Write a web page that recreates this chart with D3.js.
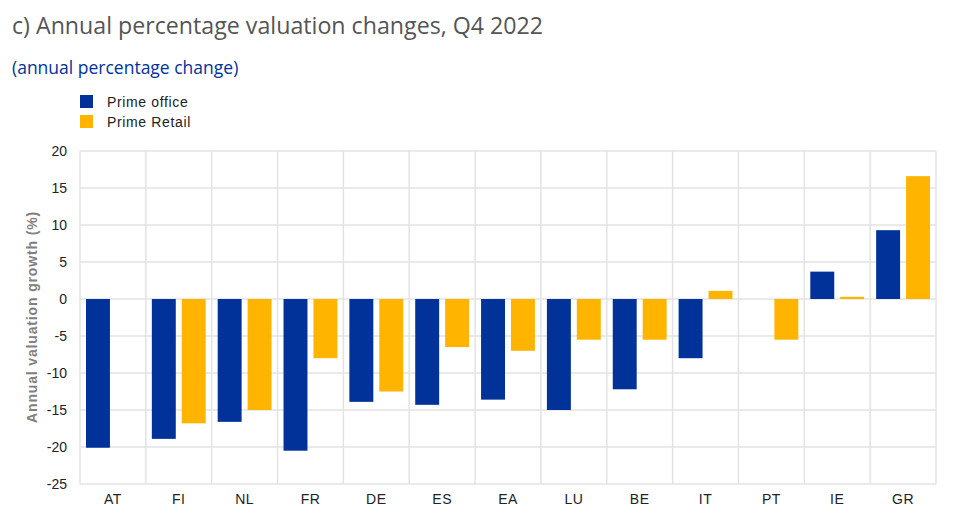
<!DOCTYPE html>
<html>
<head>
<meta charset="utf-8">
<script src="https://cdn.jsdelivr.net/npm/d3@7"></script>
<style>
  html, body { margin: 0; padding: 0; background: #fff; }
  svg { display: block; }
</style>
</head>
<body>
<div id="chart"></div>
<script>
// values
var countries = ["AT", "FI", "NL", "FR", "DE", "ES", "EA", "LU", "BE", "IT", "PT", "IE", "GR"];
var primeOffice = [-20.1, -18.9, -16.6, -20.5, -13.9, -14.3, -13.6, -15, -12.2, -8, null, 3.7, 9.3];
var primeRetail = [null, -16.8, -15, -8, -12.5, -6.5, -7, -5.5, -5.5, 1.1, -5.5, 0.3, 16.6];
var seriesNames = ["Prime office", "Prime Retail"];
var yTicks = [20, 15, 10, 5, 0, -5, -10, -15, -20, -25];

var blue = "#003299", orange = "#ffb400", gridColor = "#e3e3e3";

var svg = d3.select("#chart").append("svg")
    .attr("width", 960)
    .attr("height", 520);

var margin = { top: 151, right: 24, bottom: 36, left: 80 };
var chartWidth = 960 - margin.left - margin.right;
var chartHeight = 520 - margin.top - margin.bottom;

// Title and subtitle
svg.append("text")
    .attr("x", 12).attr("y", 34)
    .attr("font-family", "Open Sans")
    .attr("font-size", 23.2)
    .attr("fill", "#555555")
    .text("c) Annual percentage valuation changes, Q4 2022");

svg.append("text")
    .attr("x", 12).attr("y", 74)
    .attr("font-family", "Open Sans")
    .attr("font-size", 17.5)
    .attr("fill", "#003299")
    .text("(annual percentage change)");

var chartGroup = svg.append("g")
    .attr("transform", `translate(${margin.left}, ${margin.top})`);

var x0 = d3.scaleBand().domain(countries).range([0, chartWidth]);
var x1 = d3.scaleBand().domain(seriesNames).range([0, x0.bandwidth()]).paddingInner(0.2).paddingOuter(0.2);
var y = d3.scaleLinear().domain([-25, 20]).range([chartHeight, 0]);

// Gridlines
chartGroup.append("g").selectAll("line")
    .data(yTicks)
    .join("line")
    .attr("x1", 0).attr("x2", chartWidth)
    .attr("y1", d => y(d)).attr("y2", d => y(d))
    .attr("stroke", gridColor)
    .attr("stroke-width", 1.5);

chartGroup.append("g").selectAll("line")
    .data(countries)
    .join("line")
    .attr("x1", d => x0(d)).attr("x2", d => x0(d))
    .attr("y1", 0).attr("y2", chartHeight)
    .attr("stroke", gridColor)
    .attr("stroke-width", 1.5);

chartGroup.append("line")
    .attr("x1", chartWidth).attr("x2", chartWidth)
    .attr("y1", 0).attr("y2", chartHeight)
    .attr("stroke", gridColor)
    .attr("stroke-width", 1.5);

// Bars
function drawBars(values, name, color) {
    chartGroup.append("g").selectAll("rect")
        .data(values.map((v, i) => ({ country: countries[i], value: v })).filter(d => d.value !== null))
        .join("rect")
        .attr("x", d => x0(d.country) + x1(name))
        .attr("width", x1.bandwidth())
        .attr("y", d => y(Math.max(0, d.value)))
        .attr("height", d => Math.abs(y(d.value) - y(0)))
        .attr("fill", color);
}
drawBars(primeOffice, seriesNames[0], blue);
drawBars(primeRetail, seriesNames[1], orange);

// Axes
var yAxis = d3.axisLeft(y).tickValues(yTicks).tickSize(0).tickPadding(13).tickFormat(d => String(d));
var yAxisGroup = chartGroup.append("g").call(yAxis);
yAxisGroup.select(".domain").remove();
yAxisGroup.selectAll("text")
    .attr("font-family", "Liberation Sans")
    .attr("font-size", 14)
    .attr("dy", "0.32em")
    .attr("fill", "#222222");

var xAxis = d3.axisBottom(x0).tickSize(0).tickPadding(10);
var xAxisGroup = chartGroup.append("g")
    .attr("transform", `translate(0, ${chartHeight})`)
    .call(xAxis);
xAxisGroup.select(".domain").remove();
xAxisGroup.selectAll("text")
    .attr("font-family", "Liberation Sans")
    .attr("font-size", 14)
    .attr("letter-spacing", 0.5)
    .attr("fill", "#222222");

// Y axis title
svg.append("text")
    .attr("transform", "translate(37, 317) rotate(-90)")
    .attr("text-anchor", "middle")
    .attr("font-family", "Liberation Sans")
    .attr("font-size", 14)
    .attr("font-weight", "bold")
    .attr("letter-spacing", 0.85)
    .attr("fill", "#808080")
    .text("Annual valuation growth (%)");

// Legend
var legend = svg.append("g").selectAll("g")
    .data(seriesNames)
    .join("g")
    .attr("transform", (d, i) => `translate(80, ${95 + i * 20})`);

legend.append("rect")
    .attr("width", 13).attr("height", 13)
    .attr("fill", (d, i) => i === 0 ? blue : orange);

legend.append("text")
    .attr("x", 27).attr("y", 12)
    .attr("font-family", "Liberation Sans")
    .attr("font-size", 14)
    .attr("letter-spacing", 0.65)
    .attr("fill", "#222222")
    .text(d => d);
</script>
</body>
</html>
